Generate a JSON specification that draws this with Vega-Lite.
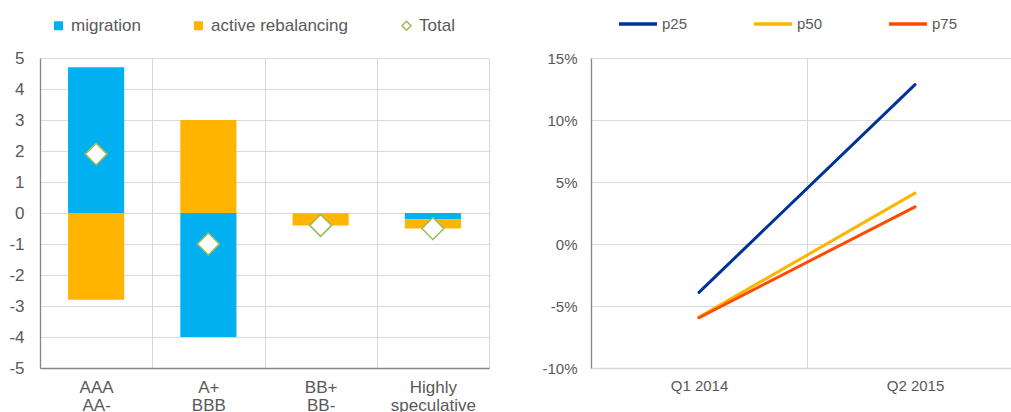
{
  "$schema": "https://vega.github.io/schema/vega-lite/v6.json",
  "padding": {"left": 8, "top": 3, "right": 0, "bottom": 0},
  "spacing": 52,
  "config": {
    "font": "Liberation Sans",
    "view": {"stroke": null},
    "axis": {"labelColor": "#595959", "labelFont": "Liberation Sans", "title": null, "gridColor": "#D9D9D9", "gridWidth": 1, "domainWidth": 1.3, "labelOverlap": false},
    "legend": {"labelColor": "#595959", "labelFont": "Liberation Sans", "title": null}
  },
  "datasets": {
    "bars": [
      {"rating": "AAA|AA-", "series": "migration", "value": 4.7},
      {"rating": "AAA|AA-", "series": "active rebalancing", "value": -2.8},
      {"rating": "A+|BBB", "series": "migration", "value": -4.0},
      {"rating": "A+|BBB", "series": "active rebalancing", "value": 3.0},
      {"rating": "BB+|BB-", "series": "migration", "value": -0.01},
      {"rating": "BB+|BB-", "series": "active rebalancing", "value": -0.39},
      {"rating": "Highly|speculative", "series": "migration", "value": -0.2},
      {"rating": "Highly|speculative", "series": "active rebalancing", "value": -0.3}
    ],
    "totals": [
      {"rating": "AAA|AA-", "value": 1.9},
      {"rating": "A+|BBB", "value": -1.0},
      {"rating": "BB+|BB-", "value": -0.4},
      {"rating": "Highly|speculative", "value": -0.5}
    ],
    "lines": [
      {"period": "Q1 2014", "series": "p25", "value": -3.9},
      {"period": "Q2 2015", "series": "p25", "value": 12.85},
      {"period": "Q1 2014", "series": "p50", "value": -5.9},
      {"period": "Q2 2015", "series": "p50", "value": 4.1},
      {"period": "Q1 2014", "series": "p75", "value": -5.95},
      {"period": "Q2 2015", "series": "p75", "value": 3.0}
    ]
  },
  "resolve": {"scale": {"x": "independent", "y": "independent", "color": "independent"}, "legend": {"color": "independent"}},
  "hconcat": [
    {
      "width": 449,
      "height": 310,
      "layer": [
        {
          "mark": {"type": "rule", "color": "#868686", "strokeWidth": 1.3},
          "encoding": {
            "y": {
              "datum": 0, "type": "quantitative",
              "scale": {"domain": [-5, 5], "nice": false},
              "axis": {"values": [-5, -4, -3, -2, -1, 0, 1, 2, 3, 4, 5], "labelExpr": "'' + datum.value", "labelFontSize": 17, "labelPadding": 16, "ticks": false, "grid": true, "domainColor": "#868686"}
            }
          }
        },
        {
          "data": {"name": "bars"},
          "mark": {"type": "bar", "width": {"band": 0.5}},
          "encoding": {
            "x": {
              "field": "rating", "type": "nominal", "sort": null,
              "scale": {"paddingInner": 0, "paddingOuter": 0},
              "axis": {"labelExpr": "split(datum.label, '|')", "labelAngle": 0, "labelFontSize": 17, "labelLineHeight": 18, "labelPadding": 11, "ticks": false, "grid": true, "tickBand": "extent", "domainColor": "#868686", "labelBaseline": "top"}
            },
            "y": {
              "field": "value", "type": "quantitative", "stack": "zero",
              "axis": {"values": [-5, -4, -3, -2, -1, 0, 1, 2, 3, 4, 5], "labelExpr": "'' + datum.value", "labelFontSize": 17, "labelPadding": 16, "ticks": false, "grid": true, "domainColor": "#868686"}
            },
            "color": {
              "field": "series", "type": "nominal",
              "scale": {"domain": ["migration", "active rebalancing", "Total"], "range": ["#00B0F0", "#FFB400", "#ffffff"]},
              "legend": {
                "orient": "none", "legendX": 10, "legendY": -41, "direction": "horizontal",
                "symbolType": "square", "symbolSize": 81, "labelFontSize": 17, "columnPadding": 49, "labelOffset": 4,
                "encode": {
                  "symbols": {
                    "update": {
                      "shape": {"signal": "datum.value === 'Total' ? 'diamond' : 'square'"},
                      "stroke": {"signal": "datum.value === 'Total' ? '#9BBB59' : 'transparent'"},
                      "strokeWidth": {"value": 1.5}
                    }
                  }
                }
              }
            },
            "order": {"field": "series", "sort": "descending"}
          }
        },
        {
          "data": {"name": "totals"},
          "mark": {"type": "point", "shape": "diamond", "size": 480, "filled": true, "fill": "#ffffff", "stroke": "#9BBB59", "strokeWidth": 1.5, "opacity": 1},
          "encoding": {
            "x": {
              "field": "rating", "type": "nominal", "sort": null,
              "axis": {"labelExpr": "split(datum.label, '|')", "labelAngle": 0, "labelFontSize": 17, "labelLineHeight": 18, "labelPadding": 11, "ticks": false, "grid": true, "tickBand": "extent", "domainColor": "#868686", "labelBaseline": "top"}
            },
            "y": {
              "field": "value", "type": "quantitative",
              "axis": {"values": [-5, -4, -3, -2, -1, 0, 1, 2, 3, 4, 5], "labelExpr": "'' + datum.value", "labelFontSize": 17, "labelPadding": 16, "ticks": false, "grid": true, "domainColor": "#868686"}
            }
          }
        }
      ]
    },
    {
      "width": 432,
      "height": 310,
      "layer": [
        {
          "mark": {"type": "rule", "color": "#868686", "strokeWidth": 1.3},
          "encoding": {"y": {"datum": 0, "type": "quantitative"}}
        },
        {
          "data": {"name": "lines"},
          "mark": {"type": "line", "strokeWidth": 3, "strokeCap": "round"},
          "encoding": {
            "x": {
              "field": "period", "type": "nominal", "sort": null,
              "scale": {"paddingInner": 0, "paddingOuter": 0},
              "axis": {"labelAngle": 0, "labelFontSize": 15, "labelPadding": 10, "ticks": false, "grid": true, "tickBand": "extent", "domainColor": "#D9D9D9"}
            },
            "y": {
              "field": "value", "type": "quantitative",
              "scale": {"domain": [-10, 15], "nice": false},
              "axis": {"values": [-10, -5, 0, 5, 10, 15], "labelExpr": "datum.value + '%'", "labelFontSize": 15, "labelPadding": 14, "ticks": false, "grid": true, "domainColor": "#868686"}
            },
            "color": {
              "field": "series", "type": "nominal",
              "scale": {"domain": ["p25", "p50", "p75"], "range": ["#003299", "#FFB400", "#FF4B00"]},
              "legend": {
                "orient": "none", "legendX": 26, "legendY": -55, "direction": "horizontal",
                "symbolType": "stroke", "symbolSize": 1444, "symbolStrokeWidth": 3.5, "labelFontSize": 15, "columnPadding": 59, "labelOffset": 3
              }
            }
          }
        }
      ]
    }
  ]
}
